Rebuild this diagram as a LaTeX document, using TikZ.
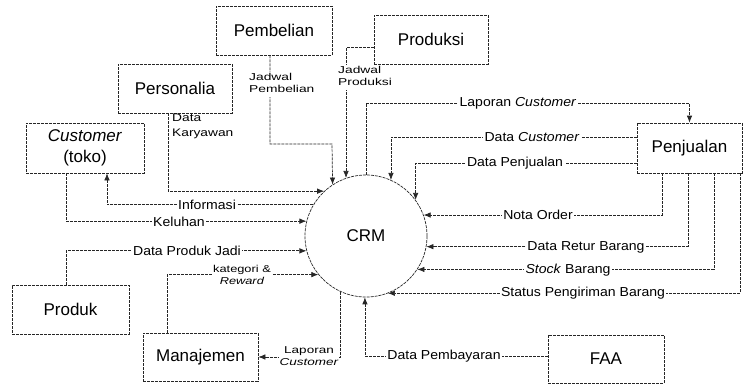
\documentclass[tikz,border=0pt]{standalone}
\usepackage{fontspec}
\setmainfont{Liberation Sans}
\usepackage{graphicx}
\usetikzlibrary{arrows.meta}
\newcommand{\boxfont}{\fontsize{17}{19}\selectfont}
\newcommand{\hsc}[1]{\scalebox{1.08}[1]{#1}}
\newcommand{\twol}[4]{\scalebox{#1}[1]{\begin{tabular}{@{}#2@{}}#3\\#4\end{tabular}}}
\begin{document}
\begin{tikzpicture}[x=1pt,y=-1pt,
  ln/.style={line width=0.7pt, dash pattern=on 3pt off 1pt},
  flow/.style={ln, color=black!85, -{Latex[length=7pt,width=5.5pt]}},
  ent/.style={draw=black!85, ln, inner sep=0pt, font=\boxfont, align=center},
  lbl/.style={fill=white, inner sep=1.5pt, font=\fontsize{13}{15}\selectfont},
  lbltwo/.style={fill=white, inner sep=1pt, font=\fontsize{10}{11.5}\selectfont},
]
\useasboundingbox (0,0) rectangle (743,383);

% entities
\node[ent, minimum width=116pt, minimum height=49pt] (pemb) at (274,30.5) {Pembelian};
\node[ent, minimum width=114pt, minimum height=49pt] (pers) at (175,88.5) {Personalia};
\node[ent, minimum width=114pt, minimum height=49pt] (prod) at (431,39.5) {Produksi};
\node[ent, minimum width=118pt, minimum height=50pt, font=\fontsize{17}{21}\selectfont] (cust) at (85,148) {\textit{Customer}\\(toko)};
\node[ent, minimum width=105pt, minimum height=50pt] (penj) at (689.5,148) {Penjualan};
\node[ent, minimum width=117pt, minimum height=49pt] (produk) at (70.5,309.5) {Produk};
\node[ent, minimum width=115pt, minimum height=48pt] (manaj) at (200.5,357) {Manajemen};
\node[ent, minimum width=116pt, minimum height=48pt] (faa) at (606,359) {FAA};
\node[draw=black!85, ln, circle, minimum size=122pt, inner sep=0pt, font=\boxfont] (crm) at (366,236) {CRM};

% top connectors
\coordinate (c1) at (332,144);
\draw[flow] ([xshift=-4pt]pemb.south) |- (c1) -- (crm.123.9);
\draw[flow] ([yshift=-8pt]prod.west) -| (crm.109.1);
\coordinate (c2) at (366,103);
\draw[flow] (crm.90) -- (c2) -| (penj.north);

% right connectors
\draw[flow] ([yshift=11pt]penj.west) -| (crm.66.8);
\draw[flow] ([yshift=-15pt]penj.west) -| (crm.36.5);
\draw[flow] ([xshift=-27.5pt]penj.south) |- (crm.20.1);
\draw[flow] ([xshift=-1.5pt]penj.south) |- (crm.-10.4);
\draw[flow] ([xshift=24.5pt]penj.south) |- (crm.-33.9);
\draw[flow] ([xshift=50.5pt]penj.south) |- (crm.-69.1);

% left connectors
\draw[flow] ([xshift=-7pt]pers.south) |- (crm.133.8);
\draw[flow] (crm.149.5) -| ([xshift=22pt]cust.south);
\draw[flow] ([xshift=-19pt]cust.south) |- (crm.166.7);
\draw[flow] ([xshift=-4.5pt]produk.north) |- (crm.194.2);
\draw[flow] ([xshift=-33.5pt]manaj.north) |- (crm.219.7);
\draw[flow] (crm.245.8) |- (manaj.east);
\draw[flow] ([yshift=3pt]faa.west) -| (crm.269);

% labels
\node[lbl] (lLapC) at (518,103) {\hsc{Laporan \textit{Customer}}};
\node[lbl] (lDatC) at (532,137) {\hsc{Data \textit{Customer}}};
\node[lbl] (lDatP) at (515,163) {\hsc{Data Penjualan}};
\node[lbl] (lNota) at (538,215) {\hsc{Nota Order}};
\node[lbl] (lRetur) at (586,247) {\hsc{Data Retur Barang}};
\node[lbl] (lStock) at (568,270) {\hsc{\textit{Stock} Barang}};
\node[lbl] (lStat) at (583,293) {\hsc{Status Pengiriman Barang}};
\node[lbl] (lBayar) at (444,356) {\hsc{Data Pembayaran}};
\node[lbl] (lInfo) at (207,205) {\hsc{Informasi}};
\node[lbl] (lKel) at (179,222) {\hsc{Keluhan}};
\node[lbl] (lDPJ) at (187,251) {\hsc{Data Produk Jadi}};

\node[lbltwo, anchor=west] (lJPem) at (248,84) {\twol{1.38}{l}{Jadwal}{Pembelian}};
\node[lbltwo, anchor=west] (lJPro) at (337,77) {\twol{1.38}{l}{Jadwal}{Produksi}};
\node[lbltwo, anchor=west, fill=none, font=\fontsize{11}{15}\selectfont] (lKary) at (171,125.5) {\twol{1.25}{l}{Data}{Karyawan}};
\node[lbltwo] (lKat) at (242,276) {\twol{1.28}{c}{kategori \&}{\textit{Reward}}};
\node[lbltwo] (lLapB) at (309,357) {\twol{1.35}{c}{Laporan}{\textit{Customer}}};
\end{tikzpicture}
\end{document}
